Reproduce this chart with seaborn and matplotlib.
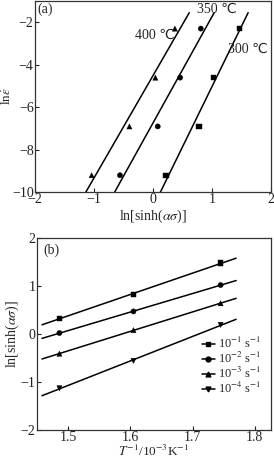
import numpy as np
import pandas as pd
import matplotlib
matplotlib.use("Agg")
import matplotlib.pyplot as plt
import seaborn as sns
from matplotlib.legend_handler import HandlerLine2D
from matplotlib.lines import Line2D

# ---------------- data: panel (a) ----------------
ln_strain_rate = [-9.21, -6.91, -4.61, -2.30]
temp_labels = ["400 ℃", "350 ℃", "300 ℃"]
lnsinh_400 = [-1.04, -0.40, 0.04, 0.37]
lnsinh_350 = [-0.56, 0.08, 0.46, 0.81]
lnsinh_300 = [0.22, 0.78, 1.03, 1.46]

# ---------------- data: panel (b) ----------------
inv_T = [1.486, 1.605, 1.745]
rate_labels = ["10$^{-1}$ s$^{-1}$", "10$^{-2}$ s$^{-1}$",
               "10$^{-3}$ s$^{-1}$", "10$^{-4}$ s$^{-1}$"]
lnsinh_r1 = [0.33, 0.82, 1.48]
lnsinh_r2 = [0.02, 0.47, 1.02]
lnsinh_r3 = [-0.41, 0.08, 0.64]
lnsinh_r4 = [-1.13, -0.56, 0.19]

sns.set_style("ticks")
plt.rcParams["font.family"] = ["Liberation Serif", "DejaVu Serif"]
plt.rcParams["mathtext.fontset"] = "stix"
plt.rcParams["axes.linewidth"] = 0.9
plt.rcParams["axes.edgecolor"] = "#333333"

FS = 10
fig = plt.figure(figsize=(2.74, 4.59), dpi=100)
ax1 = fig.add_axes([35/274, 1-192/459, 236/274, 191/459])
ax2 = fig.add_axes([37/274, 1-430/459, 234/274, 192/459])

# ---------- panel (a) ----------
series_a = [lnsinh_400, lnsinh_350, lnsinh_300]
markers_a = ["^", "o", "s"]
rows = []
for lab, xs in zip(temp_labels, series_a):
    for x, y in zip(xs, ln_strain_rate):
        rows.append({"T": lab, "x": x, "y": y})
dfa = pd.DataFrame(rows)
sns.scatterplot(data=dfa, x="x", y="y", style="T", markers=markers_a,
                color="black", s=14, edgecolor="black", linewidth=0.3,
                legend=False, ax=ax1, zorder=3)
y_ext = np.array([-10.0, -1.55])
for xs in series_a:
    a, b = np.polyfit(xs, ln_strain_rate, 1)
    xl = (y_ext - b) / a
    sns.lineplot(x=xl, y=y_ext, color="black", lw=1.1, ax=ax1, sort=False)

ax1.set_xlim(-2, 2)
ax1.set_ylim(-10, -1)
ax1.set_xticks([-2, -1, 0, 1, 2])
ax1.set_yticks([-10, -8, -6, -4, -2])
ax1.set_xlabel(r"ln[sinh($\alpha\sigma$)]", fontsize=FS, labelpad=1)
ax1.set_ylabel(r"ln$\dot{\varepsilon}$", fontsize=9.5, labelpad=-1)
fam = ["Liberation Serif", "DejaVu Sans"]
ax1.text(0.04, -2.6, temp_labels[0], fontsize=FS, ha="center", va="center", family=fam)
ax1.text(1.08, -1.4, temp_labels[1], fontsize=FS, ha="center", va="center", family=fam)
ax1.text(1.61, -3.3, temp_labels[2], fontsize=FS, ha="center", va="center", family=fam)
ax1.text(-1.82, -1.4, "(a)", fontsize=FS, ha="center", va="center")

# ---------- panel (b) ----------
series_b = [lnsinh_r1, lnsinh_r2, lnsinh_r3, lnsinh_r4]
markers_b = ["s", "o", "^", "v"]
rows = []
for lab, ys in zip(rate_labels, series_b):
    for x, y in zip(inv_T, ys):
        rows.append({"r": lab, "x": x, "y": y})
dfb = pd.DataFrame(rows)
sns.scatterplot(data=dfb, x="x", y="y", style="r", markers=markers_b,
                color="black", s=14, edgecolor="black", linewidth=0.3,
                legend=False, ax=ax2, zorder=3)
x_ext = np.array([1.458, 1.77])
for ys in series_b:
    a, b = np.polyfit(inv_T, ys, 1)
    sns.lineplot(x=x_ext, y=a * x_ext + b, color="black", lw=1.1, ax=ax2)

ax2.set_xlim(1.45, 1.826)
ax2.set_ylim(-2, 2)
ax2.set_xticks([1.5, 1.6, 1.7, 1.8])
ax2.set_yticks([-2, -1, 0, 1, 2])
ax2.set_xlabel(r"$T^{-1}$/10$^{-3}$K$^{-1}$", fontsize=9.5, labelpad=0)
ax2.set_ylabel(r"ln[sinh($\alpha\sigma$)]", fontsize=FS, labelpad=0)
ax2.text(1.473, 1.75, "(b)", fontsize=FS, ha="center", va="center")


class MarkerFirst(HandlerLine2D):
    def get_xdata(self, legend, xdescent, ydescent, width, height, fontsize):
        xdata = np.array([-xdescent + 0.25 * width, -xdescent + width])
        xmark = np.array([-xdescent + 0.08 * width])
        return xdata, xmark


handles = [Line2D([], [], color="black", lw=1.1, marker=m, markersize=3.5)
           for m in markers_b]
leg = ax2.legend(handles, rate_labels, loc="upper right",
                 bbox_to_anchor=(0.96, 0.49), frameon=False, fontsize=9,
                 handlelength=1.3, handletextpad=0.3, labelspacing=0.0,
                 borderaxespad=0, borderpad=0,
                 handler_map={Line2D: MarkerFirst(numpoints=1)})

for ax in (ax1, ax2):
    ax.tick_params(direction="in", length=3, width=0.8, labelsize=FS, pad=1,
                   colors="#222222")
    for sp in ax.spines.values():
        sp.set_visible(True)

fig.savefig("out.png", dpi=100)
